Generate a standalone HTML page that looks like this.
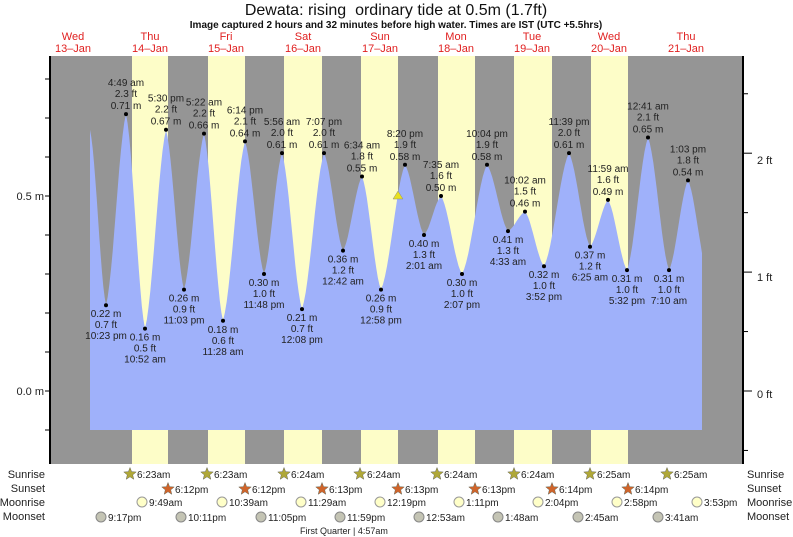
<!DOCTYPE html>
<html><head><meta charset="utf-8"><style>
body{margin:0;background:#fff;}
svg{display:block;font-family:"Liberation Sans",sans-serif;}
</style></head><body>
<svg id="s" width="793" height="537" viewBox="0 0 793 537" xmlns="http://www.w3.org/2000/svg">
<rect x="50" y="56" width="693" height="408" fill="#959595"/>
<g fill="#fdfdc8">
<rect x="132" y="56" width="36" height="408"/><rect x="208" y="56" width="37" height="408"/>
<rect x="284" y="56" width="38" height="408"/><rect x="361" y="56" width="37" height="408"/>
<rect x="438" y="56" width="37" height="408"/><rect x="514" y="56" width="38" height="408"/>
<rect x="591" y="56" width="37" height="408"/>
</g>
<path id="tide" fill="#9fb1fa" d=""/>
<g id="lab" font-size="10" fill="#222" text-anchor="middle"></g>
<polygon points="398,191 393,199 403,199" fill="#e8e020" stroke="#888" stroke-width="0.5"/>
<line x1="50" y1="56" x2="50" y2="464" stroke="#000" stroke-width="2"/>
<line x1="743" y1="56" x2="743" y2="464" stroke="#000" stroke-width="2"/>
<g id="ticks" stroke="#000"></g>
<g font-size="11" fill="#222">
<text x="44" y="200" text-anchor="end">0.5 m</text>
<text x="44" y="395" text-anchor="end">0.0 m</text>
<text x="757" y="164">2 ft</text>
<text x="757" y="281">1 ft</text>
<text x="757" y="398">0 ft</text>
</g>
<text x="396" y="15" font-size="16" text-anchor="middle" fill="#111">Dewata: rising&#160; ordinary tide at 0.5m (1.7ft)</text>
<text x="396" y="28" font-size="10" font-weight="bold" text-anchor="middle" fill="#111">Image captured 2 hours and 32 minutes before high water. Times are IST (UTC +5.5hrs)</text>
<g font-size="11" fill="#e02020" text-anchor="middle" id="days"></g>
<g font-size="11" fill="#222">
<text x="45" y="478" text-anchor="end">Sunrise</text><text x="45" y="492" text-anchor="end">Sunset</text>
<text x="45" y="506" text-anchor="end">Moonrise</text><text x="45" y="520" text-anchor="end">Moonset</text>
<text x="747" y="478">Sunrise</text><text x="747" y="492">Sunset</text>
<text x="747" y="506">Moonrise</text><text x="747" y="520">Moonset</text>
</g>
<g id="astro" font-size="10" fill="#222"></g>
<text x="300" y="534" font-size="9" fill="#222">First Quarter | 4:57am</text>
</svg>
<script>
var NS="http://www.w3.org/2000/svg";
function el(p,t,a,txt){var e=document.createElementNS(NS,t);for(var k in a)e.setAttribute(k,a[k]);if(txt!=null)e.textContent=txt;document.getElementById(p).appendChild(e);return e;}
function Y(h){return 391-390*h;}
var ex=[[90,0.67,null],[106,0.22,"10:23 pm"],[126,0.71,"4:49 am"],[145,0.16,"10:52 am"],[166,0.67,"5:30 pm"],[184,0.26,"11:03 pm"],[204,0.66,"5:22 am"],[223,0.18,"11:28 am"],[245,0.64,"6:14 pm"],[264,0.30,"11:48 pm"],[282,0.61,"5:56 am"],[302,0.21,"12:08 pm"],[324,0.61,"7:07 pm"],[343,0.36,"12:42 am"],[362,0.55,"6:34 am"],[381,0.26,"12:58 pm"],[405,0.58,"8:20 pm"],[424,0.40,"2:01 am"],[441,0.50,"7:35 am"],[462,0.30,"2:07 pm"],[487,0.58,"10:04 pm"],[508,0.41,"4:33 am"],[525,0.46,"10:02 am"],[544,0.32,"3:52 pm"],[569,0.61,"11:39 pm"],[590,0.37,"6:25 am"],[608,0.49,"11:59 am"],[627,0.31,"5:32 pm"],[648,0.65,"12:41 am"],[669,0.31,"7:10 am"],[688,0.54,"1:03 pm"],[707,0.31,null]];
var d="M90,430 L90,"+Y(0.67);
for(var i=0;i<ex.length-1;i++){var a=ex[i],b=ex[i+1];var stop=false;for(var s=1;s<=12;s++){var t=s/12;var x=a[0]+(b[0]-a[0])*t;var f=0.6*(1-Math.cos(Math.PI*t))/2+0.4*t;var h=a[1]+(b[1]-a[1])*f;if(x>702){x=702;stop=true;}d+=" L"+x.toFixed(1)+","+Y(h).toFixed(1);if(stop)break;}if(stop)break;}
d+=" L702,430 Z";
document.getElementById("tide").setAttribute("d",d);
for(var i=1;i<ex.length-1;i++){var e=ex[i],x=e[0],y=Y(e[1]),ft=(e[1]/0.3048).toFixed(1)+" ft",m=e[1].toFixed(2)+" m";
el("lab","circle",{cx:x,cy:y,r:2,fill:"#000"});
var hi=e[1]>ex[i-1][1];
if(hi){el("lab","text",{x:x,y:y-28},e[2]);el("lab","text",{x:x,y:y-17},ft);el("lab","text",{x:x,y:y-5},m);}
else{el("lab","text",{x:x,y:y+12},m);el("lab","text",{x:x,y:y+23},ft);el("lab","text",{x:x,y:y+34},e[2]);}}
for(var yy=391-390*0.8;yy<=464;yy+=39){if(yy>=56)el("ticks","line",{x1:45,x2:50,y1:yy,y2:yy});}
for(var f=-1;f<=7;f++){var yy=391-118.9*f/2;if(yy>=56&&yy<=464)el("ticks","line",{x1:743,x2:748+(f%2==0?4:0),y1:yy,y2:yy});}
var days=[["Wed","13\u2013Jan",73],["Thu","14\u2013Jan",150],["Fri","15\u2013Jan",226],["Sat","16\u2013Jan",303],["Sun","17\u2013Jan",380],["Mon","18\u2013Jan",456],["Tue","19\u2013Jan",532],["Wed","20\u2013Jan",609],["Thu","21\u2013Jan",686]];
days.forEach(function(q){el("days","text",{x:q[2],y:40},q[0]);el("days","text",{x:q[2],y:52},q[1]);});
function star(x,y,c){var p="";for(var k=0;k<10;k++){var r=k%2?2.8:6.5,a=-Math.PI/2+k*Math.PI/5;p+=(x+r*Math.cos(a)).toFixed(1)+","+(y+r*Math.sin(a)).toFixed(1)+" ";}el("astro","polygon",{points:p,fill:c,stroke:"#665","stroke-width":0.5});}
var sr=[[130,"6:23am"],[207,"6:23am"],[284,"6:24am"],[360,"6:24am"],[437,"6:24am"],[514,"6:24am"],[590,"6:25am"],[667,"6:25am"]];
sr.forEach(function(q){star(q[0],474,"#b0a838");el("astro","text",{x:q[0]+7,y:478},q[1]);});
var ss=[[168,"6:12pm"],[245,"6:12pm"],[322,"6:13pm"],[398,"6:13pm"],[475,"6:13pm"],[552,"6:14pm"],[628,"6:14pm"]];
ss.forEach(function(q){star(q[0],489,"#d0642a");el("astro","text",{x:q[0]+7,y:493},q[1]);});
var mr=[[142,"9:49am"],[222,"10:39am"],[301,"11:29am"],[380,"12:19pm"],[459,"1:11pm"],[538,"2:04pm"],[617,"2:58pm"],[697,"3:53pm"]];
mr.forEach(function(q){el("astro","circle",{cx:q[0],cy:502,r:5,fill:"#ffffc8",stroke:"#999"});el("astro","text",{x:q[0]+7,y:506},q[1]);});
var ms=[[101,"9:17pm"],[181,"10:11pm"],[261,"11:05pm"],[340,"11:59pm"],[419,"12:53am"],[498,"1:48am"],[578,"2:45am"],[658,"3:41am"]];
ms.forEach(function(q){el("astro","circle",{cx:q[0],cy:517,r:5,fill:"#c4c4b4",stroke:"#888"});el("astro","text",{x:q[0]+7,y:521},q[1]);});
</script>
</body></html>
